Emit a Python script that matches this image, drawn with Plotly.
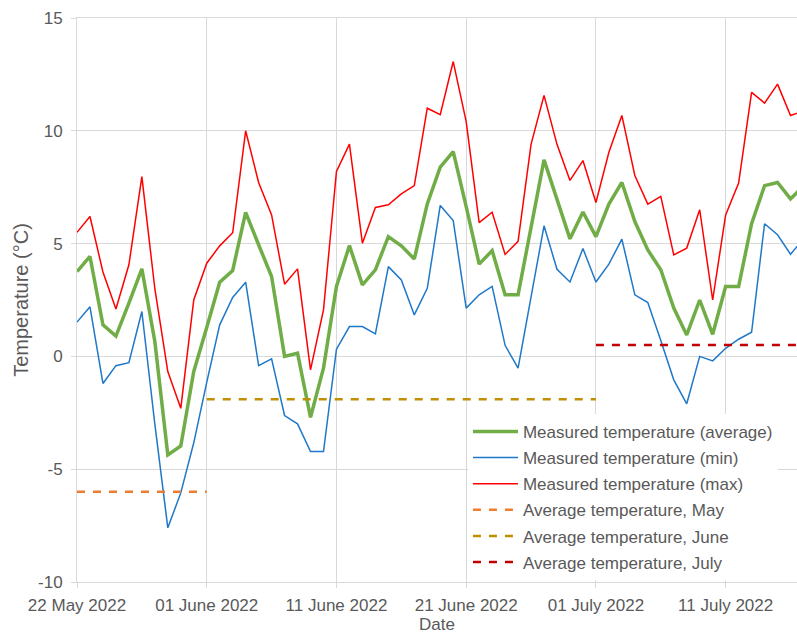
import pandas as pd
import plotly.graph_objects as go

# ---- data -----------------------------------------------------------------
dates = pd.date_range("2022-05-22", periods=57, freq="D")

avg_temp = [3.76, 4.43, 1.40, 0.90, 2.36, 3.88, 0.66, -4.37, -3.97, -0.67,
            1.28, 3.29, 3.81, 6.38, 4.95, 3.54, 0.00, 0.14, -2.70, -0.52,
            3.10, 4.91, 3.17, 3.84, 5.31, 4.90, 4.32, 6.76, 8.39, 9.08,
            6.64, 4.09, 4.69, 2.73, 2.73, 5.70, 8.71, 6.96, 5.21, 6.40,
            5.31, 6.75, 7.71, 5.98, 4.72, 3.84, 2.14, 0.95, 2.50, 0.98,
            3.10, 3.10, 5.88, 7.57, 7.71, 6.98, 7.55]

min_temp = [1.52, 2.20, -1.20, -0.41, -0.28, 1.99, -3.00, -7.60, -6.05, -3.83,
            -1.15, 1.40, 2.61, 3.29, -0.41, -0.11, -2.62, -2.99, -4.22, -4.22,
            0.32, 1.32, 1.32, 1.00, 3.98, 3.39, 1.84, 3.02, 6.69, 6.02,
            2.14, 2.73, 3.10, 0.49, -0.52, 2.70, 5.79, 3.86, 3.30, 4.78,
            3.30, 4.09, 5.20, 2.73, 2.39, 0.70, -1.04, -2.10, 0.00, -0.20,
            0.36, 0.76, 1.07, 5.88, 5.39, 4.53, 5.20]

max_temp = [5.50, 6.20, 3.74, 2.10, 4.06, 7.97, 3.00, -0.67, -2.30, 2.50,
            4.13, 4.90, 5.48, 10.00, 7.71, 6.27, 3.20, 3.88, -0.60, 2.06,
            8.20, 9.41, 5.02, 6.60, 6.72, 7.20, 7.57, 11.00, 10.71, 13.07,
            10.41, 5.93, 6.39, 4.52, 5.10, 9.40, 11.57, 9.40, 7.80, 8.68,
            6.82, 9.05, 10.68, 8.02, 6.75, 7.09, 4.50, 4.80, 6.50, 2.50,
            6.27, 7.68, 11.70, 11.23, 12.07, 10.68, 10.88]

month_names = ["May", "June", "July"]
month_start = ["2022-05-22", "2022-06-01", "2022-07-01"]
month_end = ["2022-06-01", "2022-07-01", "2022-07-17"]
month_avg = [-6.0, -1.9, 0.5]

tick_dates = ["2022-05-22", "2022-06-01", "2022-06-11", "2022-06-21",
              "2022-07-01", "2022-07-11"]
tick_text = ["22 May 2022", "01 June 2022", "11 June 2022", "21 June 2022",
             "01 July 2022", "11 July 2022"]
y_ticks = [-10, -5, 0, 5, 10, 15]
y_tick_text = ["-10", "-5", "0", "5", "10", "15"]

# ---- styles ---------------------------------------------------------------
TEXT = "#595959"
GRID = "#D9D9D9"
month_colors = ["#ED7D31", "#BF9000", "#C00000"]

fig = go.Figure()
fig.add_trace(go.Scatter(x=dates, y=avg_temp, mode="lines",
                         name="Measured temperature (average)",
                         line=dict(color="#70AD47", width=3.5),
                         legendgroup="a"))
fig.add_trace(go.Scatter(x=dates, y=min_temp, mode="lines",
                         name="Measured temperature (min)",
                         line=dict(color="#1F78C8", width=1.5),
                         legendgroup="b"))
fig.add_trace(go.Scatter(x=dates, y=max_temp, mode="lines",
                         name="Measured temperature (max)",
                         line=dict(color="#FF0000", width=1.5),
                         legendgroup="c"))
for i, m in enumerate(month_names):
    fig.add_trace(go.Scatter(x=[month_start[i], month_end[i]],
                             y=[month_avg[i], month_avg[i]],
                             mode="lines",
                             name=f"Average temperature, {m}",
                             line=dict(color=month_colors[i], width=2.5,
                                       dash="8px,8px"),
                             legendgroup=f"m{i}"))

fig.update_layout(
    width=797, height=634,
    margin=dict(l=77, r=0, t=18, b=52),
    paper_bgcolor="white", plot_bgcolor="white",
    font=dict(family="Liberation Sans, Arial, sans-serif", size=17, color=TEXT),
    showlegend=True,
    legend=dict(x=0.543, y=0.298, xanchor="left", yanchor="top",
                bgcolor="white", borderwidth=0, tracegroupgap=1,
                font=dict(size=17, color=TEXT), itemwidth=45),
    annotations=[dict(text="Date", xref="paper", yref="paper",
                      x=0.5, y=-0.0745, xanchor="center", yanchor="middle",
                      borderpad=0, showarrow=False,
                      font=dict(size=17, color=TEXT))],
)
fig.update_xaxes(
    type="date", automargin=False,
    range=["2022-05-22", "2022-07-16 12:00"],
    tickvals=tick_dates, ticktext=tick_text,
    showgrid=True, gridcolor=GRID, gridwidth=1,
    showline=True, linecolor=GRID, linewidth=1, mirror=True,
    ticks="outside", ticklen=5, tickcolor=GRID, ticklabelstandoff=3,
    zeroline=False,
)
fig.update_yaxes(
    range=[-10, 15], tickvals=y_ticks, ticktext=y_tick_text, automargin=False,
    showgrid=True, gridcolor=GRID, gridwidth=1,
    showline=True, linecolor=GRID, linewidth=1,
    ticks="outside", ticklen=5, tickcolor=GRID, ticklabelstandoff=5,
    zeroline=False,
    title=dict(text="Temperature (°C)", standoff=4),
)

fig.write_html("out.html", config={"displayModeBar": False},
               post_script="document.body.style.margin='0';")
